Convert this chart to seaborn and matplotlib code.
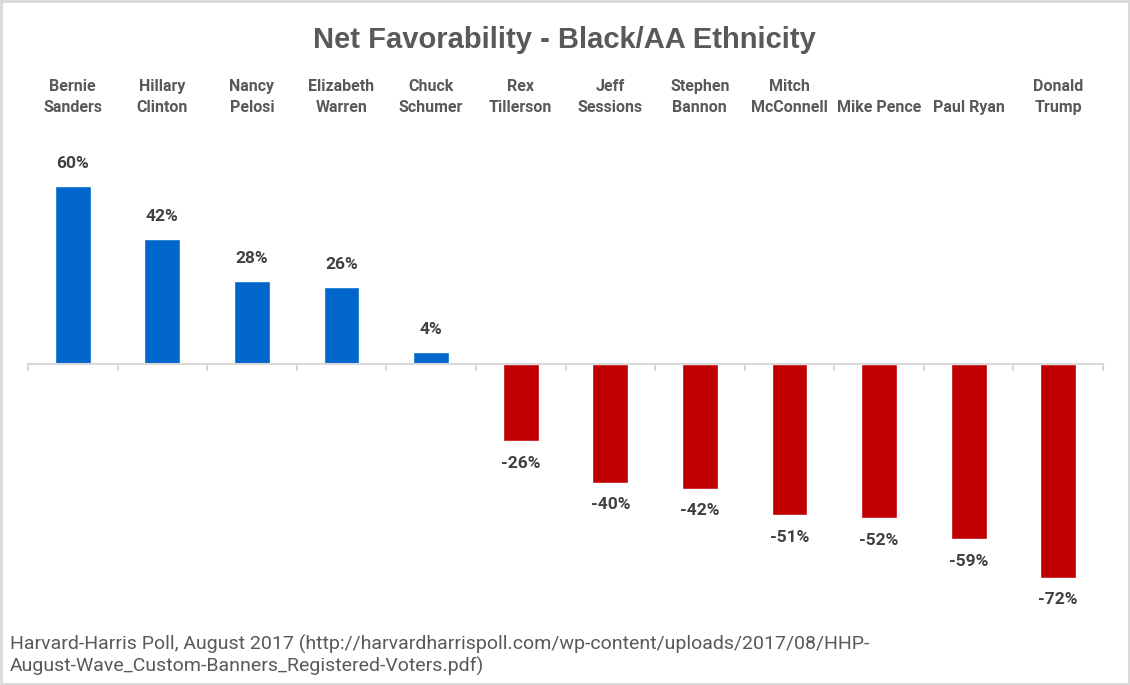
import pandas as pd
import matplotlib.pyplot as plt
import seaborn as sns
import numpy as np

# Values
names = ['Bernie\nSanders', 'Hillary\nClinton', 'Nancy\nPelosi', 'Elizabeth\nWarren',
         'Chuck\nSchumer', 'Rex\nTillerson', 'Jeff\nSessions', 'Stephen\nBannon',
         'Mitch\nMcConnell', 'Mike Pence', 'Paul Ryan', 'Donald\nTrump']
net_fav = [60, 42, 28, 26, 4, -26, -40, -42, -51, -52, -59, -72]

df = pd.DataFrame({'name': names, 'net': net_fav})
df['sign'] = np.where(df['net'] >= 0, 'pos', 'neg')

sns.set_style('white')
plt.rcParams['font.family'] = ['Roboto', 'DejaVu Sans']

fig = plt.figure(figsize=(11.3, 6.85), dpi=100)
ax = fig.add_axes([28 / 1130, 85 / 685, 1075 / 1130, 470 / 685])

sns.barplot(data=df, x='name', y='net', hue='sign', order=names,
            palette={'pos': '#0066CC', 'neg': '#C00000'}, dodge=False,
            width=0.4, legend=False, ax=ax, saturation=1)

ax.set_ylim(-79.5, 78.8)
ax.set_xlim(-0.5, len(names) - 0.5)
ax.set_xlabel('')
ax.set_ylabel('')
ax.set_yticks([])

for s in ['top', 'left', 'right']:
    ax.spines[s].set_visible(False)
ax.spines['bottom'].set_position(('data', 0))
ax.spines['bottom'].set_color('#D9D9D9')
ax.spines['bottom'].set_linewidth(1.5)

# names on top, boundary ticks on the zero line
ax.tick_params(axis='x', which='major', top=False, bottom=False, labeltop=True,
               labelbottom=False, length=0, pad=11, labelsize=11.5,
               labelcolor='#595959')
for lbl in ax.get_xticklabels():
    lbl.set_fontweight('bold')
    lbl.set_linespacing(1.45)
ax.set_xticks(np.arange(-0.5, len(names), 1), minor=True)
ax.tick_params(axis='x', which='minor', bottom=True, top=False, length=5,
               width=1.5, color='#D9D9D9', direction='out')

for i, v in enumerate(net_fav):
    off = 7.5 if v >= 0 else -7.5
    ax.text(i, v + off, f'{v}%', ha='center', va='center', fontsize=12.5,
            fontweight='bold', color='#404040')

fig.text(564 / 1130, 1 - 40 / 685, 'Net Favorability - Black/AA Ethnicity',
         ha='center', va='center', fontsize=21, fontweight='bold',
         color='#595959', family=['Liberation Sans', 'DejaVu Sans'])

fig.text(10 / 1130, 1 - 655 / 685,
         'Harvard-Harris Poll, August 2017 (http://harvardharrispoll.com/wp-content/uploads/2017/08/HHP-\n'
         'August-Wave_Custom-Banners_Registered-Voters.pdf)',
         ha='left', va='center', fontsize=14, color='#595959', linespacing=1.2)

fig.patches.append(plt.Rectangle((0.001, 0.001), 0.998, 0.997, transform=fig.transFigure,
                                 fill=False, edgecolor='#D9D9D9', linewidth=2))

plt.savefig('out.png', dpi=100)
